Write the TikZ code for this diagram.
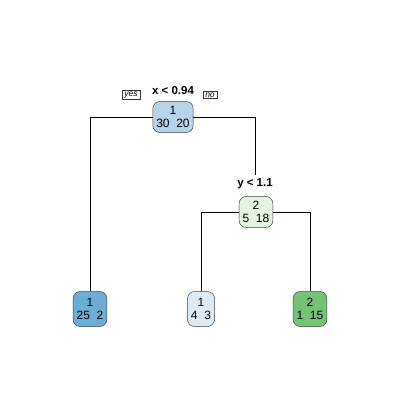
\documentclass[tikz,border=0pt]{standalone}
\usepackage{fontspec}
\setmainfont{Liberation Sans}
\definecolor{c1}{HTML}{B5D4E9}
\definecolor{c2}{HTML}{E5F5E0}
\definecolor{l1}{HTML}{6AAED6}
\definecolor{l2}{HTML}{DEEBF7}
\definecolor{l3}{HTML}{74C476}
\begin{document}
\begin{tikzpicture}[x=1pt,y=-1pt,
  tnode/.style={draw=black!75, rounded corners=7pt, align=center, font=\fontsize{12}{13.5}\selectfont, inner xsep=3.5pt, minimum height=31pt, line width=0.5pt},
  split/.style={font=\bfseries\fontsize{11.5}{12}\selectfont},
  yn/.style={draw=black!80, font=\itshape\fontsize{8.5}{9}\selectfont, inner xsep=2.5pt, inner ysep=1.2pt, line width=0.4pt},
  edge/.style={draw=black, line width=0.5pt}]
\useasboundingbox (0,0) rectangle (400,400);
\fill[white] (0,0) rectangle (400,400);
\node[tnode, fill=c1] (n1) at (173,117) {1\\30\ \ 20};
\node[split] (s1) at (173,91) {x < 0.94};
\node[yn] (yes) at (131,95) {yes};
\node[yn] (no) at (210,95) {no};
\node[tnode, fill=c2] (n2) at (256,212) {2\\5\ \ 18};
\node[split] (s2) at (255,184) {y < 1.1};
\node[tnode, fill=l1, minimum height=35pt] (a) at (90,309) {1\\25\ \ 2};
\node[tnode, fill=l2, minimum height=35pt] (b) at (201,309) {1\\4\ \ 3};
\node[tnode, fill=l3, minimum height=35pt] (c) at (310,309) {2\\1\ \ 15};
\draw[edge] (n1.west) -| (a.north);
\draw[edge] (n1.east) -| (s2.north);
\draw[edge] (n2.west) -| (b.north);
\draw[edge] (n2.east) -| (c.north);
\end{tikzpicture}
\end{document}
